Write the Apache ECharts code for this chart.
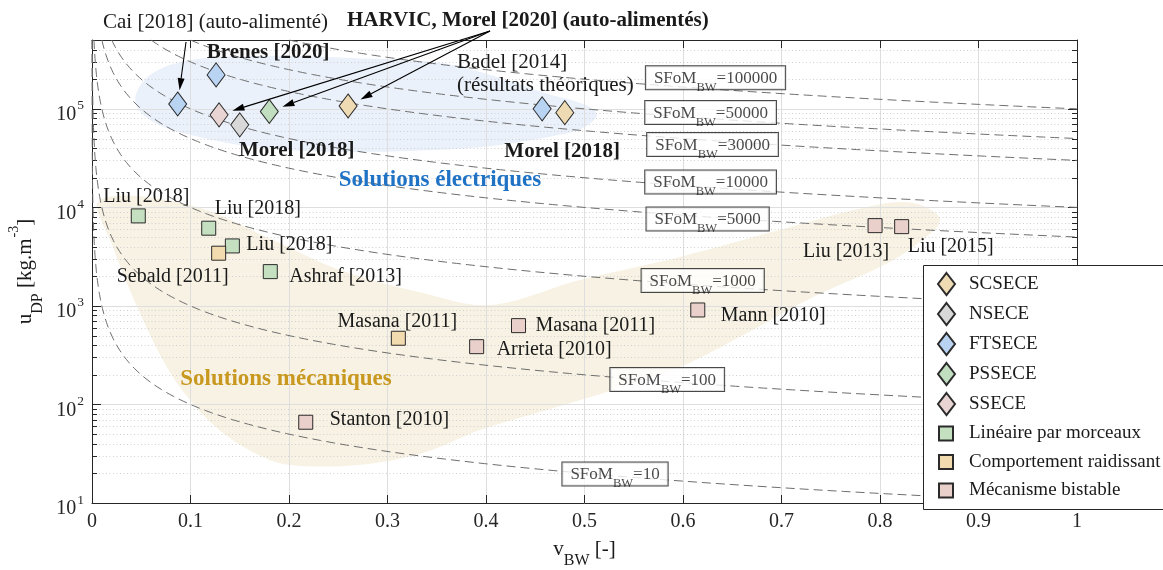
<!DOCTYPE html>
<html>
<head>
<meta charset="utf-8">
<script src="https://cdn.jsdelivr.net/npm/echarts@6/dist/echarts.min.js"></script>
<style>
  html, body { margin: 0; padding: 0; background: #fff; }
  #chart { width: 1163px; height: 570px; }
</style>
</head>
<body>
<div id="chart"></div>
<script>
// ---------- values: [v_BW, u_DP] ----------
// Electrical interfaces (diamonds)
const scseceData   = [[0.260, 107000], [0.480, 91600]];
const nseceData    = [[0.150, 68800]];
const ftseceData   = [[0.087, 112000], [0.126, 221000], [0.457, 100000]];
const pssecData    = [[0.180, 94000]];
const ssecData     = [[0.129, 87000]];

// Mechanical solutions (squares)
const lineaireData   = [[0.047, 8200], [0.1185, 6150], [0.1425, 4065], [0.181, 2230]];
const lineaireNames  = ['Liu [2018]', 'Liu [2018]', 'Liu [2018]', 'Ashraf [2013]'];
const raidissantData  = [[0.1286, 3430], [0.311, 470]];
const raidissantNames = ['Sebald [2011]', 'Masana [2011]'];
const bistableData  = [[0.433, 631], [0.3905, 386], [0.615, 910], [0.795, 6530], [0.822, 6380], [0.217, 66]];
const bistableNames = ['Masana [2011]', 'Arrieta [2010]', 'Mann [2010]', 'Liu [2013]', 'Liu [2015]', 'Stanton [2010]'];

// Iso-SFoM_BW levels (u_DP = SFoM / v_BW)
const sfomLevels = [100000, 50000, 30000, 10000, 5000, 1000, 100, 10];

// Axis ticks
const xTickLabels = ['0', '0.1', '0.2', '0.3', '0.4', '0.5', '0.6', '0.7', '0.8', '0.9', '1'];
const yDecadeExponents = [1, 2, 3, 4, 5];
const X_MIN = 0, X_MAX = 1, Y_MIN = 10, Y_MAX = 500000;

// Shaded domains, outlined in data units
const electricRegion = [
  [0.0437, 123000], [0.0589, 221000], [0.0995, 314000], [0.1706, 345000], [0.262, 329000],
  [0.3533, 293000], [0.414, 206000], [0.46, 145000], [0.5005, 110000], [0.5127, 87000],
  [0.5005, 65600], [0.475, 54500], [0.414, 43100], [0.3533, 38400], [0.262, 36600],
  [0.1706, 40200], [0.0995, 54500], [0.0589, 77300]
];
const mechanicRegion = [
  [0.0081, 11900], [0.0995, 10600], [0.1838, 4680], [0.2518, 2320], [0.336, 1355],
  [0.404, 1023], [0.4954, 1836], [0.597, 3140], [0.6985, 5920], [0.783, 9890],
  [0.8335, 11100], [0.861, 7460], [0.8335, 3970], [0.80, 2490], [0.732, 1233],
  [0.665, 532], [0.597, 240], [0.529, 140], [0.462, 88], [0.394, 55],
  [0.336, 32.2], [0.269, 24.3], [0.201, 24.3], [0.1736, 29.3], [0.133, 51.4],
  [0.0995, 111], [0.076, 240], [0.0487, 849], [0.0213, 3970]
];

// ---------- layout & style ----------
const FONT = '"Liberation Serif", "Times New Roman", Times, serif';
const INK = '#1a1a1a';
const AXIS = '#262626';

// where each SFoM box sits along its curve (v_BW) and its vertical nudge (px)
const sfomLabelV  = [0.633, 0.628, 0.630, 0.628, 0.625, 0.620, 0.584, 0.531];
const sfomLabelDy = [-11.5, -6, 4, -5.5, 2, -5, -2, -2];

// text placement next to the markers: [align, dx, dy]
const lineairePlace   = [['center', 8, -19], ['left', 6, -19], ['left', 14, -1], ['left', 19, 5]];
const raidissantPlace = [['right', 10, 24], ['center', -1, -16]];
const bistablePlace   = [['left', 17, 0], ['left', 20, 3], ['left', 23, 6], ['right', 14, 26], ['left', 6, 20], ['left', 24, -2]];

const MARK_BORDER = '#2b2b2b';
const DIAMOND = [18, 24];
const SQUARE = 14;

function labeled(data, names, place, bold) {
  return data.map((p, i) => {
    if (!names || !names[i]) return { value: p };
    const [align, dx, dy] = place[i];
    return {
      value: p,
      label: {
        show: true, position: 'inside', formatter: names[i],
        align: align, verticalAlign: 'middle', offset: [dx, dy],
        fontFamily: FONT, fontSize: 20, fontWeight: bold ? 'bold' : 'normal', color: INK
      }
    };
  });
}

function diamondSeries(name, color, data) {
  return {
    name, type: 'scatter', symbol: 'diamond', symbolSize: DIAMOND, z: 6,
    itemStyle: { color, borderColor: MARK_BORDER, borderWidth: 1, opacity: 1 },
    emphasis: { disabled: true },
    data
  };
}
function squareSeries(name, color, data) {
  return {
    name, type: 'scatter', symbol: 'rect', symbolSize: SQUARE, z: 6,
    itemStyle: { color, borderColor: MARK_BORDER, borderWidth: 1, opacity: 1 },
    emphasis: { disabled: true },
    data
  };
}

// electrical point captions
const ftseceItems = ftseceData.map(p => ({ value: p }));
ftseceItems[1].label = { show: true, position: 'inside', formatter: 'Brenes [2020]', align: 'center', verticalAlign: 'middle',
  offset: [52, -22], fontFamily: FONT, fontSize: 21, fontWeight: 'bold', color: INK };
ftseceItems[2].label = { show: true, position: 'inside', formatter: 'Morel [2018]', align: 'center', verticalAlign: 'middle',
  offset: [20, 43], fontFamily: FONT, fontSize: 21, fontWeight: 'bold', color: INK };
const nseceItems = nseceData.map(p => ({ value: p }));
nseceItems[0].label = { show: true, position: 'inside', formatter: 'Morel [2018]', align: 'center', verticalAlign: 'middle',
  offset: [57, 26], fontFamily: FONT, fontSize: 21, fontWeight: 'bold', color: INK };

// iso-curves u = S / v, sampled from the top edge of the plot to v = 1
function isoCurve(S) {
  const pts = [];
  const v0 = S / Y_MAX, n = 200;
  for (let i = 0; i <= n; i++) {
    const v = v0 * Math.pow(X_MAX / v0, i / n);
    pts.push([v, S / v]);
  }
  return pts;
}

const isoSeries = sfomLevels.map(S => ({
  type: 'line', data: isoCurve(S), showSymbol: false, silent: true, clip: true, z: 3,
  lineStyle: { color: '#6e6e6e', width: 1, type: [9, 5] },
  emphasis: { disabled: true }
}));

const sfomRich = {
  s:   { fontFamily: FONT, fontSize: 17, lineHeight: 18, verticalAlign: 'top', color: INK },
  sub: { fontFamily: FONT, fontSize: 12.5, lineHeight: 12, verticalAlign: 'top', padding: [11, 0, 0, 0], color: INK }
};
const sfomLabelSeries = {
  type: 'scatter', silent: true, z: 5, symbolSize: 1,
  itemStyle: { color: 'rgba(0,0,0,0)' },
  data: sfomLevels.map((S, i) => ({
    value: [sfomLabelV[i], S / sfomLabelV[i]],
    label: {
      show: true, position: 'inside', offset: [0, sfomLabelDy[i]],
      formatter: '{s|SFoM}{sub|BW}{s|=' + S + '}', rich: sfomRich,
      backgroundColor: '#fff', borderColor: INK, borderWidth: 1, padding: [4, 8, 1, 8]
    }
  }))
};

// dotted minor grid + minor ticks for the log axis
const minorValues = [];
yDecadeExponents.forEach(e => {
  for (let m = 2; m <= 9; m++) {
    const u = m * Math.pow(10, e);
    if (u < Y_MAX) minorValues.push([0, u]);
  }
});
const crisp = c => Math.round(c) + 0.5;
const minorSeries = {
  type: 'custom', silent: true, z: 1,
  encode: { x: 0, y: 1 },
  data: minorValues,
  renderItem(params, api) {
    const u = api.value(1);
    const a = api.coord([X_MIN, u]);
    const b = api.coord([X_MAX, u]);
    const y = crisp(a[1]);
    return {
      type: 'group',
      children: [
        { type: 'line', shape: { x1: a[0], y1: y, x2: b[0], y2: y },
          style: { stroke: '#d0d0d0', lineWidth: 1, lineDash: [1, 2.5] } },
        { type: 'line', shape: { x1: a[0], y1: y, x2: a[0] + 5, y2: y }, style: { stroke: AXIS, lineWidth: 1 } },
        { type: 'line', shape: { x1: b[0] - 5, y1: y, x2: b[0], y2: y }, style: { stroke: AXIS, lineWidth: 1 } }
      ]
    };
  }
};

function regionSeries(outline, fill) {
  return {
    type: 'custom', silent: true, z: -1,
    encode: { x: 0, y: 1 },
    data: [[outline[0][0], outline[0][1]]],
    renderItem(params, api) {
      return {
        type: 'polygon',
        shape: { points: outline.map(p => api.coord(p)), smooth: 0.35 },
        style: { fill }
      };
    }
  };
}

const baseXAxis = {
  type: 'value', min: X_MIN, max: X_MAX, interval: 0.1,
  axisLine: { show: true, onZero: false, lineStyle: { color: AXIS, width: 1 } },
  axisTick: { show: true, inside: true, length: 8, lineStyle: { color: AXIS, width: 1 } },
  splitLine: { show: false }
};
const baseYAxis = {
  type: 'log', logBase: 10, min: Y_MIN, max: Y_MAX,
  axisLine: { show: true, onZero: false, lineStyle: { color: AXIS, width: 1 } },
  axisTick: { show: true, inside: true, length: 9, lineStyle: { color: AXIS, width: 1 } },
  splitLine: { show: false }
};

const option = {
  backgroundColor: '#fff',
  animation: false,
  grid: { left: 92, right: 86, top: 40, bottom: 67, containLabel: false, outerBoundsMode: 'none' },
  xAxis: [
    Object.assign({}, baseXAxis, {
      position: 'bottom',
      splitLine: { show: true, lineStyle: { color: '#dedede', width: 1 } },
      axisLabel: {
        fontFamily: FONT, fontSize: 20, color: AXIS, margin: 9,
        formatter: v => { const i = Math.round(v * 10); return xTickLabels[i] !== undefined ? xTickLabels[i] : ''; }
      },
      name: '{m|v}{sub|BW}{m| [-]}',
      nameLocation: 'middle', nameGap: 36,
      nameTextStyle: {
        rich: {
          m:   { fontFamily: FONT, fontSize: 21, lineHeight: 21, verticalAlign: 'top', color: INK },
          sub: { fontFamily: FONT, fontSize: 16, lineHeight: 16, verticalAlign: 'top', padding: [14, 0, 0, 0], color: INK }
        }
      }
    }),
    Object.assign({}, baseXAxis, { position: 'top', axisLabel: { show: false } })
  ],
  yAxis: [
    Object.assign({}, baseYAxis, {
      position: 'left',
      splitLine: { show: true, lineStyle: { color: '#dedede', width: 1 } },
      axisLabel: {
        margin: 8,
        formatter: v => {
          const e = Math.log10(v), r = Math.round(e);
          if (Math.abs(e - r) > 1e-6 || yDecadeExponents.indexOf(r) < 0) return '';
          return '{b|10}{sup|' + r + '}';
        },
        rich: {
          b:   { fontFamily: FONT, fontSize: 20, lineHeight: 20, verticalAlign: 'top', padding: [6, 0, 6, 0], color: AXIS },
          sup: { fontFamily: FONT, fontSize: 13.5, lineHeight: 13, verticalAlign: 'top', padding: [0, 0, 0, 1], color: AXIS }
        }
      },
      name: '{m|u}{sub|DP}{m| [kg.m}{sup|-3}{m|]}',
      nameLocation: 'middle', nameRotate: 90, nameGap: 42,
      nameTextStyle: {
        rich: {
          m:   { fontFamily: FONT, fontSize: 21, lineHeight: 21, verticalAlign: 'top', padding: [11, 0, 0, 0], color: INK },
          sup: { fontFamily: FONT, fontSize: 14, lineHeight: 14, verticalAlign: 'top', padding: [3, 0, 0, 1], color: INK },
          sub: { fontFamily: FONT, fontSize: 16, lineHeight: 16, verticalAlign: 'top', padding: [25, 0, 0, 0], color: INK }
        }
      }
    }),
    Object.assign({}, baseYAxis, { position: 'right', axisLabel: { show: false } })
  ],
  legend: [
    {
      data: ['SCSECE', 'NSECE', 'FTSECE', 'PSSECE', 'SSECE'],
      orient: 'vertical', left: 937, top: 272, padding: 0, z: 100,
      itemWidth: 17, itemHeight: 22, itemGap: 6, selectedMode: false,
      textStyle: { fontFamily: FONT, fontSize: 19, color: INK, lineHeight: 16, padding: [0, 0, 0, 9] }
    },
    {
      data: ['Linéaire par morceaux', 'Comportement raidissant', 'Mécanisme bistable'],
      orient: 'vertical', left: 938, top: 424, padding: 0, z: 100,
      itemWidth: 14, itemHeight: 14, itemGap: 9.5, selectedMode: false,
      textStyle: { fontFamily: FONT, fontSize: 19, color: INK, lineHeight: 14, padding: [0, 0, 0, 11] }
    }
  ],
  series: [
    regionSeries(mechanicRegion, '#f7f2e3'),
    regionSeries(electricRegion, '#ebf1fa'),
    minorSeries,
    ...isoSeries,
    sfomLabelSeries,
    diamondSeries('SCSECE', '#eedbb3', scseceData),
    diamondSeries('NSECE', '#d8d8d8', nseceItems),
    diamondSeries('FTSECE', '#b9d3f2', ftseceItems),
    diamondSeries('PSSECE', '#c1dec0', pssecData),
    diamondSeries('SSECE', '#e9d4d4', ssecData),
    squareSeries('Linéaire par morceaux', '#c4e0c0', labeled(lineaireData, lineaireNames, lineairePlace)),
    squareSeries('Comportement raidissant', '#f3dbb0', labeled(raidissantData, raidissantNames, raidissantPlace)),
    squareSeries('Mécanisme bistable', '#e9d0ca', labeled(bistableData, bistableNames, bistablePlace))
  ]
};

const chart = echarts.init(document.getElementById('chart'), null, { renderer: 'canvas' });
chart.setOption(option);

// ---------- annotations: captions, arrows and legend frame ----------
const toPx = p => chart.convertToPixel({ xAxisIndex: 0, yAxisIndex: 0 }, p);

function arrowTo(start, target) {
  const c = toPx(target);
  let dx = start[0] - c[0], dy = start[1] - c[1];
  const L = Math.hypot(dx, dy);
  const ux = dx / L, uy = dy / L;
  const tip = [c[0] + ux * 14, c[1] + uy * 14];
  const hl = 12, hw = 3.5;
  const base = [tip[0] + ux * hl, tip[1] + uy * hl];
  return [
    { type: 'line', z: 20, silent: true,
      shape: { x1: start[0], y1: start[1], x2: base[0], y2: base[1] },
      style: { stroke: '#000', lineWidth: 1.1 } },
    { type: 'polygon', z: 20, silent: true,
      shape: { points: [tip, [base[0] - uy * hw, base[1] + ux * hw], [base[0] + uy * hw, base[1] - ux * hw]] },
      style: { fill: '#000' } }
  ];
}

function caption(text, x, y, opts) {
  return {
    type: 'text', x, y, z: 20, silent: true,
    style: Object.assign({
      text, fill: INK, fontFamily: FONT, fontSize: 21, fontWeight: 'normal',
      align: 'left', verticalAlign: 'middle'
    }, opts || {})
  };
}

const harvicStart = [490, 31];
const caiStart = [186, 42];

const graphics = [
  { type: 'rect', z: 50, silent: true,
    shape: { x: 923.5, y: 265.5, width: 260, height: 244 },
    style: { fill: '#fff', stroke: AXIS, lineWidth: 1 } },
  caption('Cai [2018] (auto-alimenté)', 103, 22),
  caption('HARVIC, Morel [2020] (auto-alimentés)', 347, 21, { fontWeight: 'bold' }),
  caption('Badel [2014]', 457, 62),
  caption('(résultats théoriques)', 457, 85),
  caption('Solutions électriques', 440, 180, { fontWeight: 'bold', fontSize: 23, fill: '#1f72c4', align: 'center' }),
  caption('Solutions mécaniques', 286, 379, { fontWeight: 'bold', fontSize: 23, fill: '#c8981f', align: 'center' }),
  ...arrowTo(caiStart, ftseceData[0]),
  ...arrowTo(harvicStart, ssecData[0]),
  ...arrowTo(harvicStart, pssecData[0]),
  ...arrowTo(harvicStart, scseceData[0])
];

chart.setOption({ graphic: graphics });
</script>
</body>
</html>
